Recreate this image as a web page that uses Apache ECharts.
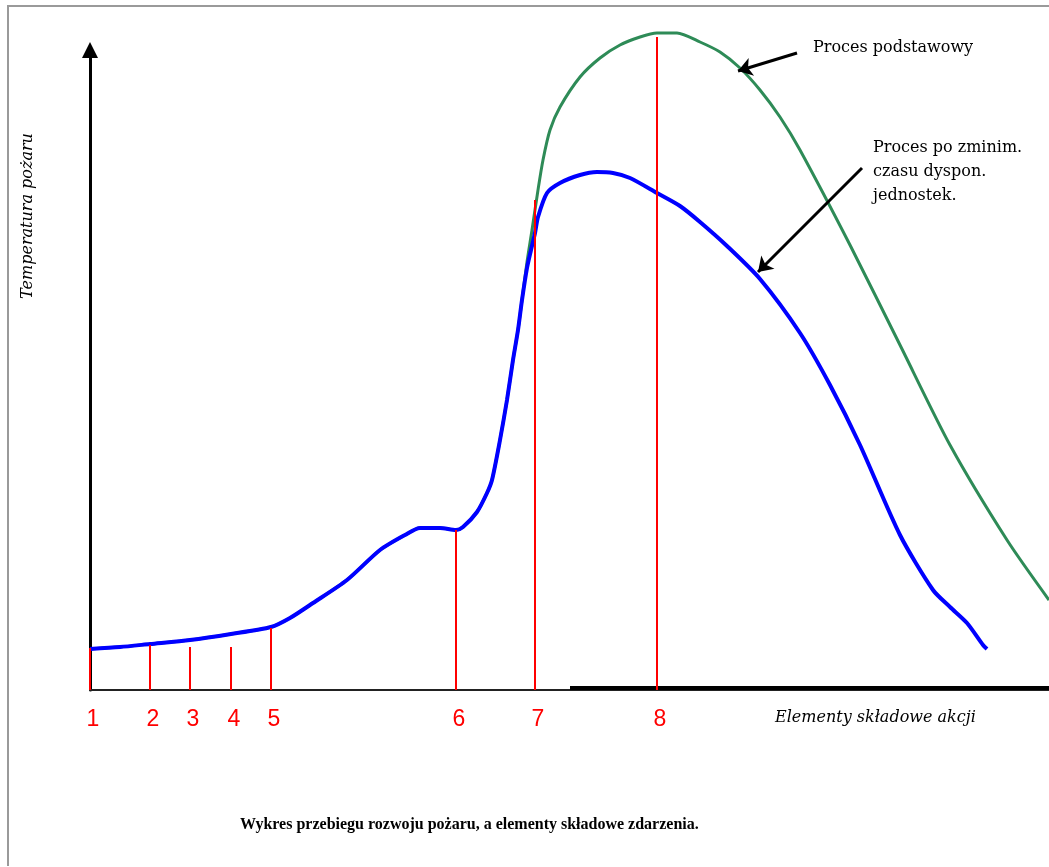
<!DOCTYPE html>
<html>
<head>
<meta charset="utf-8">
<script src="https://cdn.jsdelivr.net/npm/echarts@6/dist/echarts.min.js"></script>
<style>
html, body { margin: 0; padding: 0; background: #fff; }
#chart { width: 1049px; height: 867px; }
</style>
</head>
<body>
<div id="chart"></div>
<script>
// units (no scale printed on the axes)
const stepX = [0, 60, 100, 141, 181, 366, 445, 567]
const stepTop = [42, 45, 43, 43, 62, 160, 490, 653]
const stepLabels = ['1', '2', '3', '4', '5', '6', '7', '8']

// both curves run together up to the steep rise
const sharedPath = [[0, 41], [30, 43], [60, 46], [100, 50], [141, 56], [181, 63], [200, 72], [223, 87], [257, 110], [290, 140], [315, 155], [330, 162], [350, 162], [366, 160], [373, 163], [387, 178], [397, 197], [402, 210], [410, 250], [417, 290], [423, 330], [428, 360], [432, 390]]
const baseTail = [[437, 428], [442, 460], [448, 500], [453, 530], [460, 560], [470, 583], [490, 613], [510, 632], [530, 645], [550, 653], [567, 657], [587, 657], [610, 648], [630, 638], [650, 622], [670, 600], [690, 573], [710, 540], [760, 445], [810, 345], [860, 245], [917, 150], [959, 90]]
const improvedTail = [[437, 422], [441, 440], [445, 457], [448, 473], [457, 497], [470, 507], [490, 515], [507, 518], [523, 517], [540, 512], [567, 497], [590, 484], [610, 468], [637, 444], [670, 411], [710, 357], [740, 305], [770, 245], [810, 155], [843, 100], [860, 83], [877, 67], [893, 45], [897, 41]]

const boldAxisSpan = [480, 959]
// annotation arrows: [tail, tip]
const baseArrow = [[707, 637], [648, 619]]
const improvedArrow = [[772, 522], [668, 418]]

const chart = echarts.init(document.getElementById('chart'))

const serif = '"DejaVu Serif", "Liberation Serif", serif'

chart.setOption({
  backgroundColor: '#fff',
  animation: false,
  title: {
    text: 'Wykres przebiegu rozwoju pożaru, a elementy składowe zdarzenia.',
    left: 235,
    top: 812,
    textStyle: { fontFamily: '"Liberation Serif", serif', fontWeight: 'bold', fontSize: 16, color: '#000' }
  },
  grid: { left: 90, right: 0, top: 50, bottom: 177 },
  xAxis: {
    type: 'value',
    min: 0,
    max: 959,
    axisLine: { lineStyle: { color: '#222', width: 2 } },
    axisTick: { show: false },
    axisLabel: { show: false },
    splitLine: { show: false }
  },
  yAxis: {
    type: 'value',
    min: 0,
    max: 640,
    axisLine: {
      show: true,
      symbol: ['none', 'triangle'],
      symbolSize: [16, 16],
      lineStyle: { color: '#000', width: 3 }
    },
    axisTick: { show: false },
    axisLabel: { show: false },
    splitLine: { show: false }
  },
  graphic: [
    { type: 'polyline', shape: { points: [[8, 866], [8, 6], [1049, 6]] }, style: { stroke: '#9a9a9a', lineWidth: 2, fill: null } },
    { type: 'text', x: 28, y: 216, rotation: Math.PI / 2,
      style: { text: 'Temperatura pożaru', fontFamily: serif, fontStyle: 'italic', fontSize: 16, fill: '#000', align: 'center', verticalAlign: 'middle' } },
    { type: 'text', x: 775, y: 718,
      style: { text: 'Elementy składowe akcji', fontFamily: serif, fontStyle: 'italic', fontSize: 16, fill: '#000', verticalAlign: 'middle' } },
    { type: 'text', x: 813, y: 48,
      style: { text: 'Proces podstawowy', fontFamily: serif, fontSize: 16, fill: '#000', verticalAlign: 'middle' } },
    { type: 'text', x: 873, y: 136,
      style: { text: 'Proces po zminim.\nczasu dyspon.\njednostek.', fontFamily: serif, fontSize: 16, lineHeight: 24, fill: '#000' } }
  ],
  series: [
    {
      name: 'Proces podstawowy',
      type: 'line',
      data: sharedPath.concat(baseTail),
      smooth: 0.25,
      clip: false,
      showSymbol: false,
      lineStyle: { color: '#2e8b57', width: 3 },
      z: 2,
      markLine: {
        silent: true,
        symbol: ['none', 'arrow'],
        symbolSize: 14,
        label: { show: false },
        lineStyle: { color: '#000', width: 3, type: 'solid' },
        data: [
          [{ coord: baseArrow[0] }, { coord: baseArrow[1] }],
          [{ coord: improvedArrow[0] }, { coord: improvedArrow[1] }]
        ]
      }
    },
    {
      name: 'Proces po zminim. czasu dyspon. jednostek.',
      type: 'line',
      data: sharedPath.concat(improvedTail),
      smooth: 0.25,
      clip: false,
      showSymbol: false,
      lineStyle: { color: '#0000ff', width: 4 },
      z: 3
    },
    {
      name: 'oś',
      type: 'line',
      data: [[boldAxisSpan[0], 2], [boldAxisSpan[1], 2]],
      showSymbol: false,
      clip: false,
      silent: true,
      lineStyle: { color: '#000', width: 4 },
      z: 1
    },
    {
      name: 'elementy',
      type: 'bar',
      data: stepX.map((x, i) => [x, stepTop[i]]),
      barWidth: 2,
      clip: false,
      itemStyle: { color: '#ff0000' },
      label: {
        show: true,
        position: 'bottom',
        distance: 18,
        offset: [3, 0],
        formatter: p => stepLabels[p.dataIndex],
        color: '#ff0000',
        fontFamily: '"Liberation Sans", sans-serif',
        fontSize: 23
      },
      z: 4
    }
  ]
})
</script>
</body>
</html>
